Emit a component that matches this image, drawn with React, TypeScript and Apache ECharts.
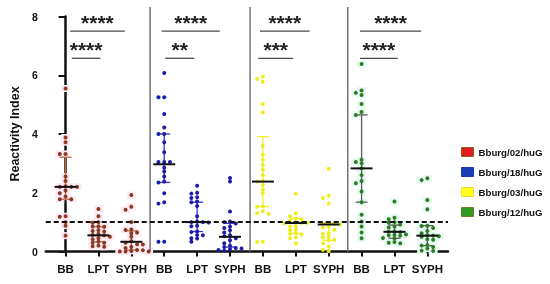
import React, { useEffect, useRef } from "react";
import * as echarts from "echarts";

// ---------- data ----------
const STRAINS = ["Bburg/02/huG", "Bburg/18/huG", "Bburg/03/huG", "Bburg/12/huG"];
const GROUPS = ["BB", "LPT", "SYPH"];
const Y_TICKS = [0, 2, 4, 6, 8];
const THRESHOLD = 1;

const S02_BB = [5.55, 3.88, 3.72, 3.32, 3.32, 2.55, 2.4, 2.22, 2.2, 2.2, 2.2, 2.08, 1.98, 1.87, 1.78, 1.78, 1.2, 1.18, 1.0, 0.88, 0.54];
const S02_LPT = [1.45, 1.2, 1.0, 0.98, 0.86, 0.85, 0.84, 0.72, 0.7, 0.68, 0.6, 0.56, 0.55, 0.5, 0.45, 0.42, 0.33, 0.3, 0.3, 0.2, 0.18, 0.16];
const S02_SYPH = [1.92, 1.52, 1.42, 1.0, 0.75, 0.73, 0.65, 0.62, 0.5, 0.35, 0.3, 0.25, 0.24, 0.15, 0.12, 0.05, 0.04, 0.02, 0.0, 0.0, 0.0];

const S18_BB = [6.08, 5.25, 5.25, 4.68, 4.22, 4.0, 4.0, 3.72, 3.38, 3.05, 3.05, 3.05, 2.85, 2.72, 2.55, 2.38, 2.35, 1.98, 1.68, 1.63, 0.33, 0.33];
const S18_LPT = [2.24, 2.0, 1.97, 1.85, 1.82, 1.7, 1.68, 1.55, 1.2, 1.02, 1.0, 1.0, 0.99, 0.88, 0.86, 0.68, 0.66, 0.56, 0.55, 0.45, 0.44, 0.33];
const S18_SYPH = [2.5, 2.38, 1.36, 1.02, 1.0, 0.95, 0.85, 0.8, 0.72, 0.65, 0.55, 0.52, 0.45, 0.38, 0.28, 0.2, 0.15, 0.12, 0.1, 0.08, 0.05, 0.03];

const S03_BB = [5.95, 5.87, 5.78, 5.02, 4.73, 3.6, 3.3, 3.12, 2.95, 2.78, 2.6, 2.4, 2.38, 2.26, 2.1, 1.98, 1.53, 1.52, 1.37, 1.3, 1.28, 0.33, 0.32];
const S03_LPT = [1.97, 1.3, 1.2, 1.12, 1.1, 1.05, 1.0, 0.98, 0.97, 0.95, 0.86, 0.84, 0.74, 0.72, 0.62, 0.6, 0.58, 0.48, 0.45, 0.27];
const S03_SYPH = [2.82, 1.9, 1.82, 1.63, 0.97, 0.95, 0.93, 0.92, 0.85, 0.82, 0.74, 0.62, 0.6, 0.5, 0.48, 0.4, 0.38, 0.28, 0.17, 0.06, 0.02];

const S12_BB = [6.38, 5.48, 5.4, 5.33, 5.02, 4.75, 4.65, 3.12, 3.05, 3.0, 2.83, 2.6, 2.4, 2.32, 2.04, 1.68, 1.25, 1.02, 0.85, 0.65, 0.45];
const S12_LPT = [1.7, 1.15, 1.1, 1.0, 0.98, 0.92, 0.85, 0.82, 0.68, 0.67, 0.66, 0.58, 0.56, 0.55, 0.54, 0.46, 0.44, 0.32, 0.3, 0.28];
const S12_SYPH = [2.49, 2.43, 1.75, 1.44, 0.88, 0.87, 0.8, 0.7, 0.62, 0.55, 0.54, 0.52, 0.5, 0.42, 0.4, 0.22, 0.2, 0.15, 0.1, 0.03, 0.02];

const DATA = [
  [S02_BB, S02_LPT, S02_SYPH],
  [S18_BB, S18_LPT, S18_SYPH],
  [S03_BB, S03_LPT, S03_SYPH],
  [S12_BB, S12_LPT, S12_SYPH],
];

// median with interquartile range, per strain: [BB, LPT, SYPH]
const MEDIAN = [[2.2, 0.55, 0.33], [2.97, 1.0, 0.5], [2.38, 0.97, 0.92], [2.83, 0.67, 0.54]];
const Q1 = [[1.78, 0.33, 0.05], [2.35, 0.68, 0.15], [1.53, 0.62, 0.38], [1.68, 0.45, 0.2]];
const Q3 = [[3.21, 0.84, 0.7], [4.0, 1.68, 0.96], [3.91, 1.12, 0.97], [4.65, 0.9, 0.88]];

// significance annotations (per strain): BB vs SYPH (upper), BB vs LPT (lower)
const SIG_UPPER = ["****", "****", "****", "****"];
const SIG_LOWER = ["****", "**", "***", "****"];
const SIG_UPPER_SPAN = [[0.14, 1.8], [2.92, 4.69], [5.91, 7.42], [8.95, 10.81]];
const SIG_LOWER_SPAN = [[0.19, 1.06], [3.03, 3.91], [5.86, 6.92], [8.95, 10.1]];
const SIG_UPPER_Y = 7.505;
const SIG_LOWER_Y = 6.577;
const DIVIDERS = [2.57, 5.61, 8.58];

// ---------- styles ----------
const FONT = "'Liberation Sans', Arial, Helvetica, sans-serif";
const DOT_COLORS = ["#8a3a22", "#1c1caa", "#eeee1e", "#2e7d24"];
const ERR_COLORS = ["#c0683f", "#3838c4", "#efef2c", "#5c5c5c"];
const HALO_COLORS = ["#fdeaf4", null, null, "#e6f9f3"];
const LEGEND_FILL = ["#e21b1b", "#1d3cb8", "#ffff1a", "#2f9a1f"];
const LEGEND_BORDER = ["#86602c", "#1d3cb8", "#e0e040", "#6f7d2a"];

function swarm(values: number[], center: number): number[][] {
  const placed: { slot: number; v: number }[] = [];
  const order = [0, -1, 1, 2, -2, 3, -3, 4, -4, 5, -5];
  const step = 0.175;
  return values.map((v) => {
    for (const s of order) {
      if (!placed.some((p) => p.slot === s && Math.abs(p.v - v) < 0.12)) {
        placed.push({ slot: s, v });
        return [center + s * step, v];
      }
    }
    return [center, v];
  });
}

export default function App() {
  const ref = useRef<HTMLDivElement>(null);

  useEffect(() => {
    if (!ref.current) return;
    const chart = echarts.init(ref.current, undefined, { renderer: "svg" });

    const series: any[] = [];
    STRAINS.forEach((name, si) => {
      const pts = GROUPS.flatMap((_, gi) => swarm(DATA[si][gi], si * 3 + gi));
      if (HALO_COLORS[si]) {
        series.push({
          type: "scatter",
          data: pts,
          symbol: "rect",
          symbolSize: [9, 7],
          itemStyle: { color: HALO_COLORS[si], opacity: 1 },
          z: 1,
          silent: true,
        });
      }
      series.push({
        type: "scatter",
        name,
        data: pts,
        symbolSize: 4,
        itemStyle: { color: DOT_COLORS[si], opacity: 1 },
        z: 4,
      });
    });

    const stats: number[][] = [];
    STRAINS.forEach((_, si) =>
      GROUPS.forEach((__, gi) => stats.push([si * 3 + gi, MEDIAN[si][gi], Q1[si][gi], Q3[si][gi], si]))
    );

    // error bars (IQR)
    series.push({
      type: "custom",
      data: stats,
      encode: { x: 0, y: 1 },
      z: 3,
      silent: true,
      renderItem: (params: any, api: any) => {
        const x = api.value(0);
        const si = api.value(4);
        const top = api.coord([x, api.value(3)]);
        const bot = api.coord([x, api.value(2)]);
        const c = ERR_COLORS[si];
        const cap = 6;
        const st = { stroke: c, lineWidth: 1.3 };
        return {
          type: "group",
          children: [
            { type: "line", shape: { x1: top[0], y1: top[1], x2: bot[0], y2: bot[1] }, style: st },
            { type: "line", shape: { x1: top[0] - cap, y1: top[1], x2: top[0] + cap, y2: top[1] }, style: st },
            { type: "line", shape: { x1: bot[0] - cap, y1: bot[1], x2: bot[0] + cap, y2: bot[1] }, style: st },
          ],
        };
      },
    });

    // medians
    series.push({
      type: "custom",
      data: stats,
      encode: { x: 0, y: 1 },
      z: 5,
      silent: true,
      renderItem: (params: any, api: any) => {
        const p = api.coord([api.value(0), api.value(1)]);
        const half = 11;
        return {
          type: "line",
          shape: { x1: p[0] - half, y1: p[1], x2: p[0] + half, y2: p[1] },
          style: { stroke: "#111", lineWidth: 2 },
        };
      },
    });

    // panel dividers + threshold line
    series.push({
      type: "custom",
      data: DIVIDERS.map((d) => [d, 0]),
      encode: { x: 0, y: 1 },
      z: 2,
      silent: true,
      clip: false,
      renderItem: (params: any, api: any) => {
        const b = api.coord([api.value(0), 0]);
        const t = api.coord([api.value(0), Y_TICKS[Y_TICKS.length - 1]]);
        return {
          type: "line",
          shape: { x1: b[0], y1: b[1], x2: t[0], y2: t[1] - 9.5 },
          style: { stroke: "#747474", lineWidth: 1.5 },
        };
      },
      markLine: {
        silent: true,
        symbol: "none",
        label: { show: false },
        lineStyle: { color: "#111", type: [5, 3], width: 2 },
        data: [{ yAxis: THRESHOLD }],
        z: 6,
      },
    });

    // significance bars
    const sigData: number[][] = [];
    const sigLabels: string[] = [];
    STRAINS.forEach((_, si) => {
      sigData.push([SIG_UPPER_SPAN[si][0], SIG_UPPER_SPAN[si][1], SIG_UPPER_Y]);
      sigLabels.push(SIG_UPPER[si]);
      sigData.push([SIG_LOWER_SPAN[si][0], SIG_LOWER_SPAN[si][1], SIG_LOWER_Y]);
      sigLabels.push(SIG_LOWER[si]);
    });
    series.push({
      type: "custom",
      data: sigData,
      encode: { x: [0, 1], y: 2 },
      z: 6,
      silent: true,
      clip: false,
      renderItem: (params: any, api: any) => {
        const a = api.coord([api.value(0), api.value(2)]);
        const b = api.coord([api.value(1), api.value(2)]);
        return {
          type: "group",
          children: [
            { type: "line", shape: { x1: a[0], y1: a[1], x2: b[0], y2: b[1] }, style: { stroke: "#4a4a4a", lineWidth: 1.3 } },
            {
              type: "text",
              x: (a[0] + b[0]) / 2,
              y: a[1] - 8.8,
              style: {
                text: sigLabels[params.dataIndex],
                fontSize: 21,
                fontWeight: "bold",
                fontFamily: FONT,
                fill: "#222",
                textAlign: "center",
                textVerticalAlign: "middle",
              },
            },
          ],
        };
      },
    });

    const tickValues = STRAINS.flatMap((_, si) => GROUPS.map((__, gi) => si * 3 + gi));

    chart.setOption({
      animation: false,
      grid: { left: 42, right: 102, top: 16.5, bottom: 32.5 },
      xAxis: {
        type: "value",
        min: -0.602,
        max: 11.627,
        splitLine: { show: false },
        axisLine: { show: true, lineStyle: { color: "#111", width: 2.5 } },
        axisTick: { show: true, customValues: tickValues, length: 5, lineStyle: { color: "#111", width: 2 } },
        axisLabel: {
          customValues: tickValues,
          formatter: (v: number) => GROUPS[Math.round(v) % 3],
          margin: 11,
          fontSize: 11.5,
          fontWeight: "bold",
          color: "#111",
          fontFamily: FONT,
        },
      },
      yAxis: {
        type: "value",
        min: 0,
        max: 8,
        interval: 2,
        splitLine: { show: false },
        name: "Reactivity Index",
        nameLocation: "middle",
        nameGap: 20,
        nameTextStyle: { fontSize: 12.5, fontWeight: "bold", color: "#111", fontFamily: FONT },
        axisLine: { show: true, lineStyle: { color: "#111", width: 2.5 } },
        axisTick: { show: true, length: 7, lineStyle: { color: "#111", width: 2 } },
        axisLabel: { margin: 8, fontSize: 10.5, fontWeight: "bold", color: "#111", fontFamily: FONT },
      },
      legend: {
        orient: "vertical",
        left: 461,
        top: 147,
        padding: 0,
        itemWidth: 12,
        itemHeight: 9,
        itemGap: 10,
        icon: "rect",
        selectedMode: false,
        textStyle: { fontSize: 9.7, fontWeight: "bold", color: "#111", fontFamily: FONT },
        data: STRAINS.map((n, i) => ({
          name: n,
          itemStyle: { color: LEGEND_FILL[i], borderColor: LEGEND_BORDER[i], borderWidth: 1, opacity: 1 },
        })),
      },
      series,
    });

    return () => chart.dispose();
  }, []);

  return <div ref={ref} style={{ position: "fixed", left: 0, top: 0, width: 550, height: 284 }} />;
}
